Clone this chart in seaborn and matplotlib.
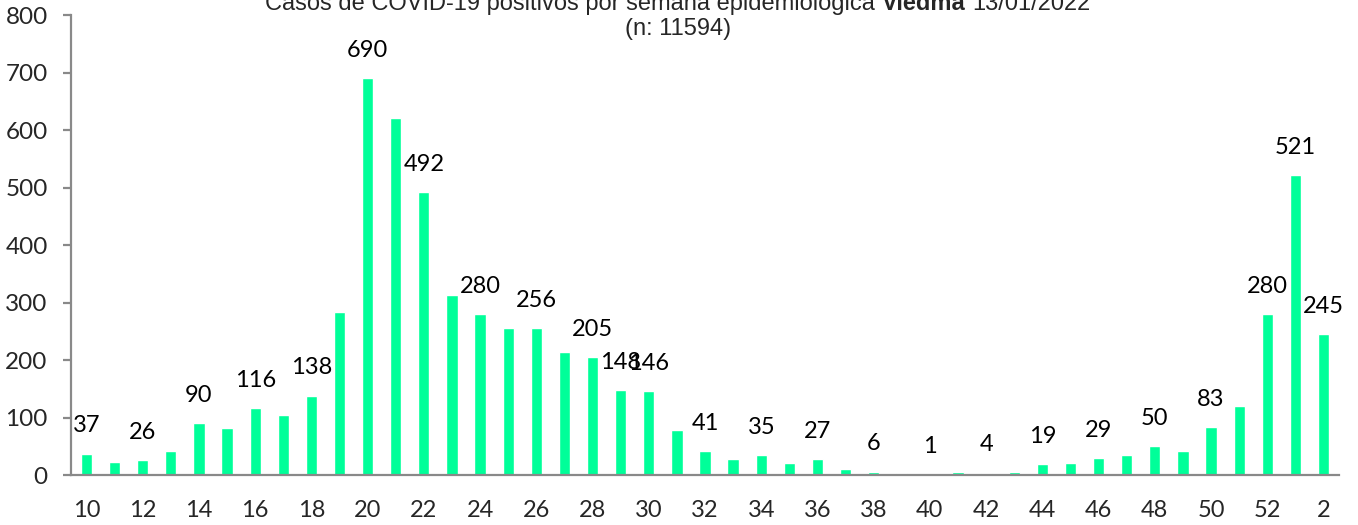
import matplotlib
matplotlib.use("Agg")
import matplotlib.pyplot as plt
import seaborn as sns
import pandas as pd

# epidemiological weeks (2021 -> 2022) and positive cases
weeks = [10, 11, 12, 13, 14, 15, 16, 17, 18, 19, 20, 21, 22, 23, 24, 25, 26, 27,
         28, 29, 30, 31, 32, 33, 34, 35, 36, 37, 38, 39, 40, 41, 42, 43, 44, 45,
         46, 47, 48, 49, 50, 51, 52, 1, 2]
cases = [37, 23, 26, 42, 90, 82, 116, 105, 138, 284, 690, 621, 492, 313, 280, 255,
         256, 214, 205, 148, 146, 78, 41, 28, 35, 21, 27, 11, 6, 4, 1, 5, 4, 6, 19,
         21, 29, 34, 50, 41, 83, 120, 280, 521, 245]
labelled_weeks = [10, 12, 14, 16, 18, 20, 22, 24, 26, 28, 29, 30, 32, 34, 36, 38,
                  40, 42, 44, 46, 48, 50, 52, 1, 2]
yticks = [0, 100, 200, 300, 400, 500, 600, 700, 800]

title_start = "Casos de COVID-19 positivos por semana epidemiológica"
title_bold = "Viedma"
title_date = "13/01/2022"
subtitle = "(n: 11594)"

df = pd.DataFrame({"semana": [str(w) for w in weeks], "casos": cases})

sns.set_style("white")
plt.rcParams["font.family"] = ["Lato", "DejaVu Sans"]

fig = plt.figure(figsize=(13.58, 5.25), dpi=100)
ax = fig.add_axes([0.0523, 0.0952, 0.9337, 0.8762])

sns.barplot(data=df, x="semana", y="casos", order=df["semana"], color="#00FF99",
            saturation=1, width=0.4, ax=ax)

# data labels above selected bars
for i, (w, c) in enumerate(zip(weeks, cases)):
    if w in labelled_weeks:
        ax.annotate(str(c), (i, c), xytext=(0, 20), textcoords="offset points",
                    ha="center", va="center", fontsize=17, color="black")

ax.set_ylim(0, 800)
ax.set_yticks(yticks)
ax.set_xlim(-0.55, len(weeks) - 0.45)
ax.set_xticks(range(0, len(weeks), 2))
ax.set_xticklabels([str(w) for w in weeks[::2]])
ax.set_xlabel("")
ax.set_ylabel("")

for side in ["top", "right"]:
    ax.spines[side].set_visible(False)
for side in ["left", "bottom"]:
    ax.spines[side].set_color("#898989")
    ax.spines[side].set_linewidth(1.6)

ax.tick_params(axis="y", direction="out", length=5.8, width=1.6, color="#898989",
               pad=11, labelsize=17.5, left=True)
ax.tick_params(axis="x", length=0, pad=18, labelsize=17)

# title: first line with bold city name, second line with the total
tfont = ["Liberation Sans", "DejaVu Sans"]
tsize = 17
y1 = 1 - 10 / 525
y2 = 1 - 35 / 525
renderer = fig.canvas.get_renderer()
pieces = [(title_start, "normal"), (title_bold, "bold"), (title_date, "normal")]
texts = []
for s, wgt in pieces:
    t = fig.text(0, y1, s, family=tfont, fontsize=tsize, fontweight=wgt,
                 va="baseline", ha="left")
    texts.append(t)
widths = [t.get_window_extent(renderer).width for t in texts]
gap = 0.278 * tsize * 100 / 72
total = sum(widths) + 2 * gap
x = 678 - total / 2
for t, wd in zip(texts, widths):
    t.set_x(x / 1358)
    x += wd + gap
fig.text(678 / 1358, y2, subtitle, family=tfont, fontsize=tsize, ha="center",
         va="baseline")

fig.savefig("out.png", dpi=100, facecolor="white")
